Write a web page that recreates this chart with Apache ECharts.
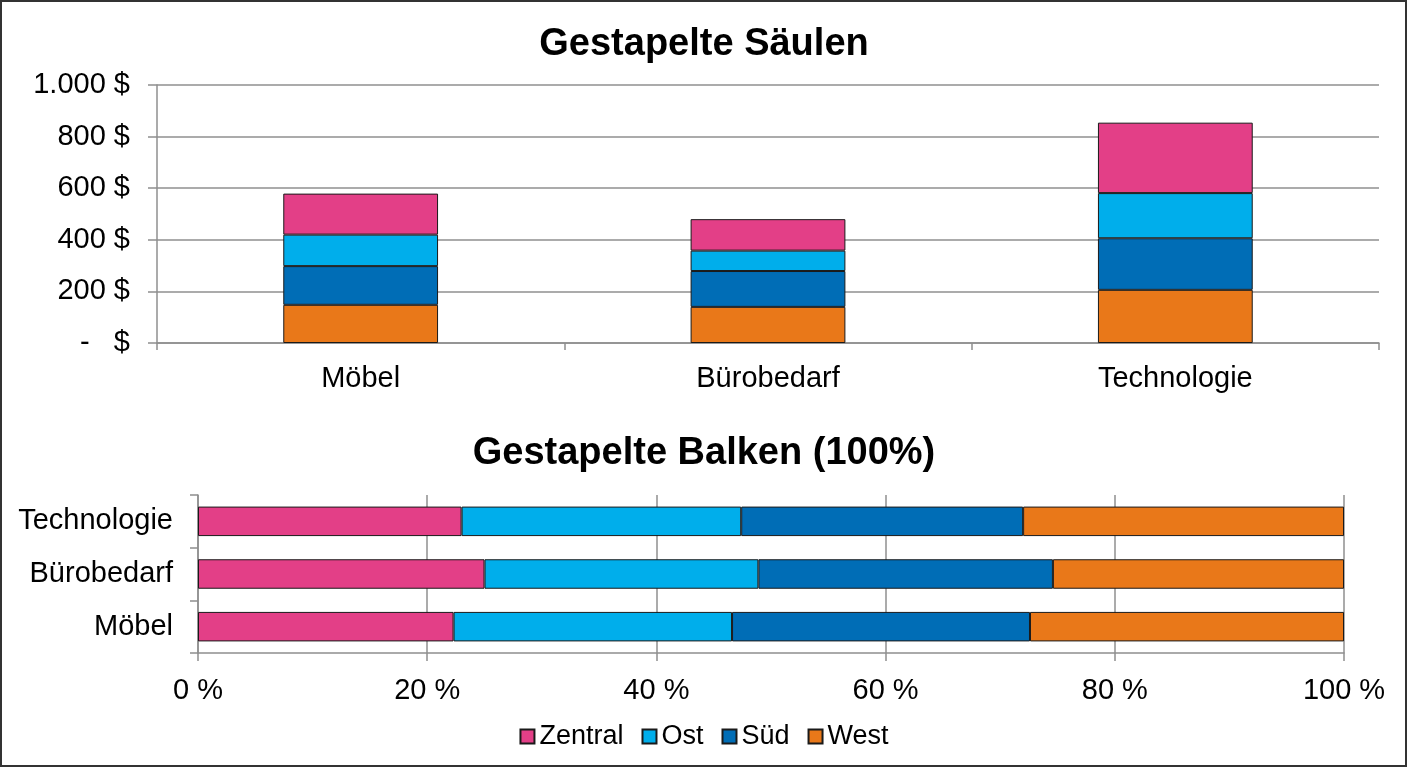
<!DOCTYPE html>
<html>
<head>
<meta charset="utf-8">
<script src="https://cdn.jsdelivr.net/npm/echarts@6/dist/echarts.min.js"></script>
<style>
html,body{margin:0;padding:0;background:#fff;}
#c{width:1408px;height:768px;}
</style>
</head>
<body>
<div id="c"></div>
<script>
const categories = ['Möbel', 'Bürobedarf', 'Technologie'];
const regions = ['Zentral', 'Ost', 'Süd', 'West'];
// Gestapelte Säulen (USD)
const colZentral = [159, 122, 273];
const colOst = [122, 79, 175];
const colSued = [150, 139, 200];
const colWest = [148, 140, 206];
// Gestapelte Balken (100%) shares in %
const barZentral = [22.3, 25.0, 23.0];
const barOst = [24.3, 23.9, 24.4];
const barSued = [26.0, 25.7, 24.6];
const barWest = [27.4, 25.4, 28.0];
const yTicksTop = [0, 200, 400, 600, 800, 1000];
const xTicksBottom = [0, 20, 40, 60, 80, 100];

const colors = {Zentral: '#E33F87', Ost: '#00AEEB', 'Süd': '#006DB6', West: '#E97819'};
const FONT = "'Liberation Sans', Arial, sans-serif";
const gridColor = '#8f8f8f';

function fmtDollar(v) {
  if (v === 0) return '-   $';
  return v.toLocaleString('de-DE') + ' $';
}

const chart = echarts.init(document.getElementById('c'), null, {renderer: 'canvas'});

function colSeries(name, data) {
  return {
    name: name, type: 'bar', stack: 'col', xAxisIndex: 0, yAxisIndex: 0,
    data: data, barWidth: '38%',
    itemStyle: {color: colors[name], borderColor: '#1a1a1a', borderWidth: 1},
    emphasis: {disabled: true}
  };
}
function barSeries(name, data) {
  return {
    name: name, type: 'bar', stack: 'bar', xAxisIndex: 1, yAxisIndex: 1,
    data: data, barWidth: '56%',
    itemStyle: {color: colors[name], borderColor: '#1a1a1a', borderWidth: 1},
    emphasis: {disabled: true}
  };
}

chart.setOption({
  animation: false,
  backgroundColor: '#fff',
  textStyle: {fontFamily: FONT},
  title: [
    {text: 'Gestapelte Säulen', left: 'center', top: 21,
     textStyle: {fontFamily: FONT, fontSize: 38, fontWeight: 'bold', color: '#000'}},
    {text: 'Gestapelte Balken (100%)', left: 'center', top: 430,
     textStyle: {fontFamily: FONT, fontSize: 38, fontWeight: 'bold', color: '#000'}}
  ],
  legend: {
    data: regions, bottom: 13, left: 'center',
    itemWidth: 14, itemHeight: 14, itemGap: 18, icon: 'rect',
    textStyle: {fontFamily: FONT, fontSize: 27, color: '#000'}
  },
  grid: [
    {left: 157, right: 29, top: 85, height: 258},
    {left: 198, right: 64, top: 495, height: 158}
  ],
  xAxis: [
    {gridIndex: 0, type: 'category', data: categories,
     axisLine: {lineStyle: {color: gridColor, width: 1.5}},
     axisTick: {show: true, alignWithLabel: false, length: 7, lineStyle: {color: gridColor, width: 1.5}},
     axisLabel: {fontFamily: FONT, fontSize: 29, color: '#000', margin: 21}},
    {gridIndex: 1, type: 'value', min: 0, max: 100, interval: 20,
     axisLine: {show: true, lineStyle: {color: gridColor, width: 1.5}},
     axisTick: {show: true, length: 8, lineStyle: {color: gridColor, width: 1.5}},
     splitLine: {show: true, lineStyle: {color: gridColor, width: 1.5}},
     axisLabel: {fontFamily: FONT, fontSize: 29, color: '#000', margin: 23,
       formatter: v => xTicksBottom.includes(v) ? v + ' %' : ''}}
  ],
  yAxis: [
    {gridIndex: 0, type: 'value', min: 0, max: 1000, interval: 200,
     axisLine: {show: true, lineStyle: {color: gridColor, width: 1.5}},
     axisTick: {show: true, length: 9, lineStyle: {color: gridColor, width: 1.5}},
     splitLine: {show: true, lineStyle: {color: gridColor, width: 1.5}},
     axisLabel: {fontFamily: FONT, fontSize: 29, color: '#000', margin: 27,
       formatter: v => yTicksTop.includes(v) ? fmtDollar(v) : ''}},
    {gridIndex: 1, type: 'category', data: categories,
     axisLine: {show: true, lineStyle: {color: gridColor, width: 1.5}},
     axisTick: {show: true, alignWithLabel: false, length: 8, lineStyle: {color: gridColor, width: 1.5}},
     axisLabel: {fontFamily: FONT, fontSize: 29, color: '#000', margin: 25}}
  ],
  series: [
    colSeries('West', colWest),
    colSeries('Süd', colSued),
    colSeries('Ost', colOst),
    colSeries('Zentral', colZentral),
    barSeries('Zentral', barZentral),
    barSeries('Ost', barOst),
    barSeries('Süd', barSued),
    barSeries('West', barWest)
  ],
  graphic: [
    {type: 'rect', shape: {x: 1, y: 1, width: 1405, height: 765},
     style: {fill: 'none', stroke: '#333', lineWidth: 2}, silent: true}
  ]
});
</script>
</body>
</html>
